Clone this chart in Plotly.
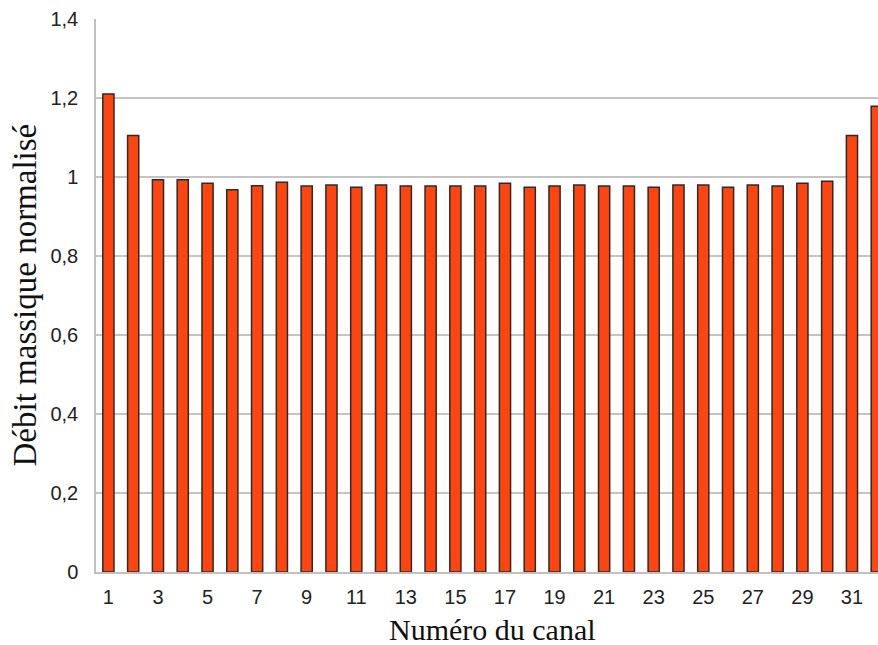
import plotly.graph_objects as go

channels = list(range(1, 33))
debit = [1.21, 1.105, 0.993, 0.993, 0.984, 0.968, 0.978, 0.987, 0.977, 0.980,
         0.974, 0.980, 0.977, 0.977, 0.977, 0.977, 0.984, 0.974, 0.977, 0.980,
         0.977, 0.977, 0.974, 0.980, 0.980, 0.974, 0.980, 0.977, 0.984, 0.989,
         1.105, 1.179]
x_tickvals = list(range(1, 33, 2))
x_ticktext = [str(v) for v in x_tickvals]
y_tickvals = [0, 0.2, 0.4, 0.6, 0.8, 1.0, 1.2, 1.4]
y_ticktext = ["0", "0,2", "0,4", "0,6", "0,8", "1", "1,2", "1,4"]
x_title = "Numéro du canal"
y_title = "Débit massique normalisé"

W, H = 878, 645
L, R, T, B = 96, 0, 19, 73
pw, ph = W - L - R, H - T - B

fig = go.Figure(go.Bar(
    x=channels, y=debit,
    marker=dict(color="#FF450F", line=dict(color="#2b2b2b", width=1.5)),
))

fig.update_layout(
    width=W, height=H,
    margin=dict(l=L, r=R, t=T, b=B, autoexpand=False),
    paper_bgcolor="white", plot_bgcolor="white",
    bargap=0.55,
    showlegend=False,
    font=dict(family="Liberation Sans, Arial", size=20, color="#222222"),
)
fig.update_xaxes(
    range=[0.5, 32.05], automargin=False,
    tickmode="array", tickvals=x_tickvals, ticktext=x_ticktext,
    showgrid=False, showline=True, linecolor="#c0c0c0", linewidth=1.5,
    ticks="", ticklabelstandoff=6,
    tickfont=dict(family="Liberation Sans, Arial", size=20, color="#222222"),
    zeroline=False,
)
fig.update_yaxes(
    range=[0, 1.4], automargin=False,
    tickmode="array", tickvals=y_tickvals, ticktext=y_ticktext,
    showgrid=True, gridcolor="#c4c4c4", gridwidth=1.5,
    showline=True, linecolor="#c0c0c0", linewidth=1.5,
    ticks="", ticklabelstandoff=12,
    tickfont=dict(family="Liberation Sans, Arial", size=20, color="#222222"),
    zeroline=False,
)

fig.add_annotation(
    text=x_title, xref="paper", yref="paper",
    x=(492 - L) / pw, y=-(629 - (H - B)) / ph,
    xanchor="center", yanchor="middle", showarrow=False,
    font=dict(family="Liberation Serif, Times New Roman", size=30, color="#111111"),
)
fig.add_annotation(
    text=y_title, xref="paper", yref="paper",
    x=(24 - L) / pw, y=0.5, textangle=-90,
    xanchor="center", yanchor="middle", showarrow=False,
    font=dict(family="Liberation Serif, Times New Roman", size=33, color="#111111"),
)

fig.write_html(
    "out.html",
    config={"displayModeBar": False},
    post_script="document.body.style.margin='0';document.body.style.overflow='hidden';",
)
